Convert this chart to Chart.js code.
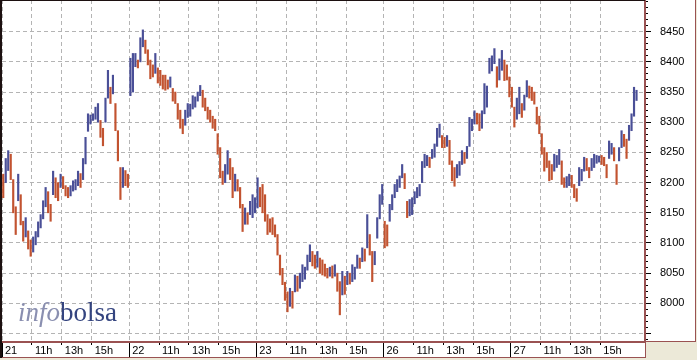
<!DOCTYPE html>
<html><head><meta charset="utf-8">
<script src="https://cdn.jsdelivr.net/npm/chart.js@4"></script>
<style>
html,body{margin:0;padding:0;background:#ECE9D8;}
#wrap{position:relative;width:697px;height:360px;}
canvas{display:block;}
#logo{position:absolute;left:18px;top:299px;font-family:'Liberation Serif',serif;font-size:27px;line-height:27px;white-space:nowrap;}
#logo .a{font-style:italic;color:#8a8fb0;}
#logo .b{color:#34447f;}
</style></head><body>
<div id="wrap"><canvas id="c" width="697" height="360"></canvas><div id="logo"><span class="a">info</span><span class="b">bolsa</span></div></div>
<script>
// ---- data (10-minute bars, 9:00-17:30 each session) ----
const days = ['21','22','23','26','27'];
const hourLabels = ['11h','13h','15h'];
const hourSlots = [12,24,36];
const yTickValues = [7950,8000,8050,8100,8150,8200,8250,8300,8350,8400,8450];
const yLabelMin = 8000;

const d21High = [8214,8240,8253,8247,8205,8160,8214,8180,8136,8142,8120,8105,8110,8119,8135,8147,8170,8192,8185,8164,8219,8208,8200,8214,8210,8195,8192,8195,8203,8205,8219,8215,8240,8275,8314,8312,8314,8325,8331,8303,8290,8340,8386,8358,8378,8331,8286,8225,8225,8220,8214];
const d21Low  = [8175,8200,8220,8205,8150,8114,8170,8130,8103,8110,8090,8078,8085,8097,8110,8125,8140,8160,8150,8136,8180,8175,8170,8192,8190,8178,8175,8178,8186,8188,8195,8192,8205,8231,8285,8297,8303,8305,8300,8275,8261,8300,8340,8331,8347,8286,8236,8172,8192,8195,8192];
const d22High = [8406,8414,8414,8403,8440,8453,8436,8420,8403,8395,8414,8390,8386,8378,8378,8370,8375,8356,8350,8331,8320,8305,8320,8331,8330,8344,8342,8350,8361,8353,8340,8325,8320,8310,8305,8281,8258,8219,8230,8253,8240,8225,8214,8205,8192,8164,8158,8150,8169,8180,8175];
const d22Low  = [8344,8350,8392,8390,8400,8425,8414,8395,8372,8375,8381,8365,8361,8355,8353,8355,8358,8335,8331,8305,8290,8281,8295,8308,8310,8322,8325,8335,8344,8325,8319,8305,8300,8290,8286,8247,8208,8197,8200,8214,8205,8175,8186,8186,8158,8119,8131,8131,8147,8142,8150];
const d23High = [8208,8192,8197,8180,8147,8140,8142,8130,8114,8080,8058,8035,8019,8025,8020,8047,8045,8050,8064,8060,8080,8097,8086,8080,8086,8075,8072,8065,8058,8060,8062,8064,8050,8036,8053,8045,8053,8050,8064,8060,8080,8075,8092,8090,8147,8114,8086,8086,8142,8180,8197];
const d23Low  = [8158,8160,8150,8136,8114,8118,8114,8110,8080,8047,8031,8005,7986,7995,7992,8019,8020,8025,8036,8040,8055,8069,8062,8058,8060,8050,8047,8045,8042,8045,8042,8045,8020,7981,8014,8015,8031,8032,8036,8040,8058,8058,8069,8070,8092,8080,8036,8064,8108,8140,8164];
const d26High = [8136,8130,8164,8180,8197,8205,8211,8230,8215,8169,8172,8175,8185,8192,8197,8235,8247,8245,8242,8255,8264,8290,8297,8278,8275,8278,8270,8236,8225,8230,8235,8253,8250,8260,8308,8305,8319,8315,8314,8319,8364,8360,8406,8410,8422,8392,8405,8419,8403,8395,8375];
const d26Low  = [8092,8095,8136,8155,8175,8185,8192,8208,8190,8142,8145,8147,8165,8175,8178,8200,8225,8228,8225,8240,8242,8260,8275,8258,8258,8260,8230,8203,8194,8208,8212,8230,8232,8240,8260,8286,8297,8297,8286,8290,8314,8325,8381,8385,8397,8358,8370,8386,8369,8370,8342];
const d27High = [8358,8325,8340,8358,8331,8345,8369,8360,8358,8350,8325,8310,8281,8258,8250,8236,8230,8247,8245,8255,8236,8208,8210,8214,8212,8197,8190,8225,8222,8242,8240,8225,8240,8247,8245,8244,8245,8242,8230,8269,8265,8258,8230,8258,8286,8280,8272,8295,8314,8358,8353];
const d27Low  = [8325,8292,8305,8314,8308,8320,8342,8340,8336,8330,8297,8281,8247,8219,8225,8203,8205,8219,8225,8230,8197,8192,8192,8195,8192,8175,8169,8195,8203,8219,8220,8208,8220,8225,8232,8234,8230,8228,8208,8240,8247,8236,8197,8236,8258,8260,8240,8270,8286,8310,8336];

const dayHighs = [d21High,d22High,d23High,d26High,d27High];
const dayLows  = [d21Low,d22Low,d23Low,d26Low,d27Low];

// ---- build ----
const SLOTS = 51;
const XMAX = 257.9, YMIN = 7936, YMAX = 8502.5;
const RED = '#c25330', BLUE = '#4a4f97';
const points = [];
dayLows.forEach((lows, d) => lows.forEach((lo, i) => points.push({x: d*SLOTS + i + 0.5, y: [lo, dayHighs[d][i]]})));
const colors = points.map((p, k) => {
  if (k === 0) return RED;
  const m = (p.y[0]+p.y[1])/2, pm = (points[k-1].y[0]+points[k-1].y[1])/2;
  return m >= pm ? BLUE : RED;
});
const xTickValues = [];
days.forEach((_, d) => { xTickValues.push(d*SLOTS); hourSlots.forEach(h => xTickValues.push(d*SLOTS + h)); });
function xLabel(v){
  const d = Math.floor(v / SLOTS), r = v - d*SLOTS;
  if (r === 0) return days[d];
  const k = hourSlots.indexOf(r);
  return k >= 0 ? hourLabels[k] : '';
}
const minorY = [];
for (let v = 7940; v <= 8500; v += 10) minorY.push(v);

const frame = {
  id: 'frame',
  beforeDraw(chart){
    const c = chart.ctx, a = chart.chartArea;
    c.save();
    c.fillStyle = '#ECE9D8'; c.fillRect(0,0,chart.width,chart.height);
    c.fillStyle = '#ffffff';
    c.fillRect(0,0,696,a.bottom);
    c.fillRect(0,a.bottom,a.right,16);
    c.restore();
  },
  afterDraw(chart){
    const c = chart.ctx, a = chart.chartArea;
    c.save();
    c.strokeStyle = '#9a5252'; c.lineWidth = 1;
    c.beginPath();
    c.moveTo(0, a.bottom+15.5); c.lineTo(a.right, a.bottom+15.5);
    c.moveTo(a.right+0.5, a.bottom); c.lineTo(a.right+0.5, a.bottom+16);
    c.moveTo(695.5, 0); c.lineTo(695.5, a.bottom);
    c.moveTo(a.right, a.bottom-0.5); c.lineTo(696, a.bottom-0.5);
    c.stroke();
    c.lineWidth = 2;
    c.beginPath(); c.moveTo(a.right, 0); c.lineTo(a.right, a.top); c.stroke();
    c.fillStyle = '#1c1010';
    c.fillRect(0,0,2,a.bottom+16);
    c.fillRect(0,0,a.right,1);
    c.restore();
  }
};

new Chart(document.getElementById('c'), {
  type: 'bar',
  data: { datasets: [{
    data: points, backgroundColor: colors, borderWidth: 0,
    barThickness: 1.5, grouped: false, xAxisID: 'x', yAxisID: 'y'
  }]},
  options: {
    responsive: false, animation: false, devicePixelRatio: 1,
    layout: { padding: { left: 2, top: 0, right: 0, bottom: 0 } },
    plugins: { legend: { display: false }, tooltip: { enabled: false } },
    font: { family: 'Liberation Sans', size: 11 },
    scales: {
      x: {
        type: 'linear', min: 0, max: XMAX, offset: false, position: 'bottom', weight: 1,
        grid: { offset: false, color: '#b4b4b4', lineWidth: 1, tickLength: 3, tickColor: '#000' },
        border: { display: true, color: '#9a5252', width: 2, dash: [4,3] },
        ticks: { autoSkip: false, maxRotation: 0, align: 'start', labelOffset: 3, padding: -1, color: '#000',
                 font: { family: 'Liberation Sans', size: 11 }, callback: v => xLabel(v) },
        afterBuildTicks: s => { s.ticks = xTickValues.map(v => ({value: v})); },
        afterFit: s => { s.height = 18; s.paddingLeft = 0; s.paddingRight = 0; }
      },
      xd: {
        type: 'linear', min: 0, max: XMAX, offset: false, position: 'bottom', weight: 0,
        grid: { offset: false, drawOnChartArea: false, tickLength: 15, tickColor: '#000' },
        border: { display: false }, ticks: { display: false },
        afterBuildTicks: s => { s.ticks = days.map((_, d) => ({value: d*SLOTS})); },
        afterFit: s => { s.height = 0; s.paddingLeft = 0; s.paddingRight = 0; }
      },
      y: {
        type: 'linear', position: 'right', weight: 1, min: YMIN, max: YMAX, beginAtZero: false,
        grid: { color: '#b4b4b4', lineWidth: 1, tickLength: 6, tickColor: '#000' },
        border: { display: true, color: '#9a5252', width: 2, dash: [4,3] },
        ticks: { padding: 9, color: '#000', font: { family: 'Liberation Sans', size: 11 },
                 callback: v => v >= yLabelMin ? String(v) : '' },
        afterBuildTicks: s => { s.ticks = yTickValues.map(v => ({value: v})); },
        afterFit: s => { s.width = 52; s.paddingTop = 0; s.paddingBottom = 0; }
      },
      ym: {
        type: 'linear', position: 'right', weight: 0, min: YMIN, max: YMAX,
        grid: { drawOnChartArea: false, tickLength: 3, tickColor: '#000' },
        border: { display: false }, ticks: { display: false },
        afterBuildTicks: s => { s.ticks = minorY.map(v => ({value: v})); },
        afterFit: s => { s.width = 0; s.paddingTop = 0; s.paddingBottom = 0; }
      }
    }
  },
  plugins: [frame]
});
</script></body></html>
